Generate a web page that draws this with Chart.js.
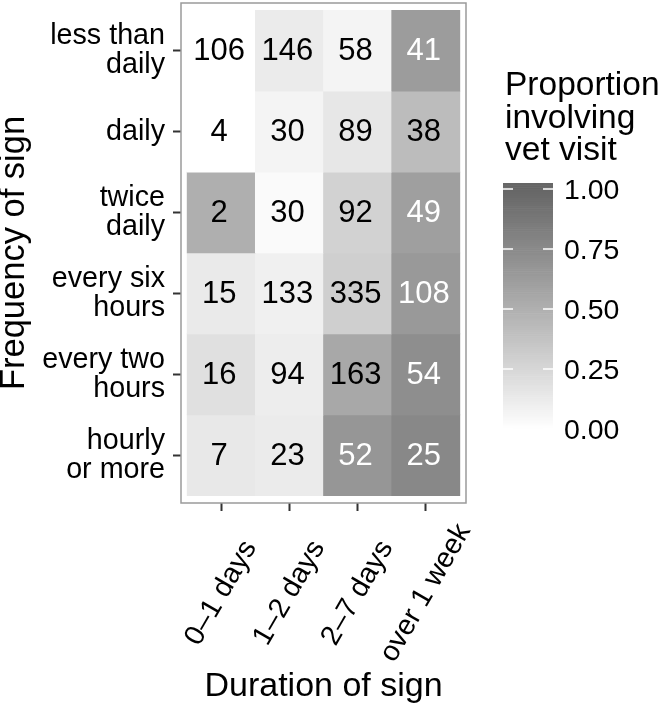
<!DOCTYPE html>
<html>
<head>
<meta charset="utf-8">
<script src="https://cdn.jsdelivr.net/npm/chart.js@4.4.1/dist/chart.umd.min.js"></script>
<style>
html,body{margin:0;padding:0;background:#fff;}
#wrap{width:666px;height:709px;position:relative;}
</style>
</head>
<body>
<div id="wrap"><canvas id="c"></canvas></div>
<script>
// ---- data ----
const durations = ['0–1 days', '1–2 days', '2–7 days', 'over 1 week'];
const frequencies = [
  ['less than', 'daily'],
  ['daily'],
  ['twice', 'daily'],
  ['every six', 'hours'],
  ['every two', 'hours'],
  ['hourly', 'or more']
];
const counts = [
  [106, 146, 58, 41],
  [4, 30, 89, 38],
  [2, 30, 92, 49],
  [15, 133, 335, 108],
  [16, 94, 163, 54],
  [7, 23, 52, 25]
];
const proportions = [
  [0.00, 0.12, 0.07, 0.63],
  [0.00, 0.07, 0.15, 0.42],
  [0.50, 0.03, 0.28, 0.61],
  [0.13, 0.09, 0.30, 0.65],
  [0.19, 0.11, 0.55, 0.72],
  [0.14, 0.12, 0.67, 0.76]
];
const legendBreaks = [0, 0.25, 0.5, 0.75, 1];
const legendTitle = ['Proportion', 'involving', 'vet visit'];
const xTitle = 'Duration of sign';
const yTitle = 'Frequency of sign';

// ---- styling helpers ----
const FONT = "'Liberation Sans', Arial, Helvetica, sans-serif";
const L_HIGH = 43.19; // grey40 lightness
function fillFor(p) {
  const v = Math.max(0, Math.min(1, p));
  const L = 100 - v * (100 - L_HIGH);
  const Y = Math.pow((L + 16) / 116, 3);
  const s = Y <= 0.0031308 ? 12.92 * Y : 1.055 * Math.pow(Y, 1 / 2.4) - 0.055;
  const g = Math.round(Math.max(0, Math.min(1, s)) * 255);
  return 'rgb(' + g + ',' + g + ',' + g + ')';
}

const datasets = counts.map((row, r) => ({
  label: frequencies[r].join(' '),
  data: row.map((n, c) => ({ x: c, y: [r - 0.5, r + 0.5] })),
  backgroundColor: proportions[r].map(fillFor),
  borderWidth: 0,
  barPercentage: 1,
  categoryPercentage: 1,
  grouped: false
}));

const decor = {
  id: 'decor',
  afterDatasetsDraw(chart) {
    const ctx = chart.ctx;
    const ca = chart.chartArea;
    // cell labels
    ctx.save();
    ctx.font = '31px ' + FONT;
    ctx.textAlign = 'center';
    ctx.textBaseline = 'middle';
    chart.data.datasets.forEach((ds, r) => {
      const meta = chart.getDatasetMeta(r);
      meta.data.forEach((bar, c) => {
        const cy = (bar.y + bar.base) / 2;
        ctx.fillStyle = proportions[r][c] > 0.6 ? '#ffffff' : '#000000';
        ctx.fillText(String(counts[r][c]), bar.x - 2, cy + 1);
      });
    });
    ctx.restore();
    // panel border
    ctx.save();
    ctx.strokeStyle = '#9a9a9a';
    ctx.lineWidth = 1.5;
    ctx.strokeRect(ca.left, ca.top, ca.right - ca.left, ca.bottom - ca.top);
    ctx.restore();
  },
  afterDraw(chart) {
    const ctx = chart.ctx;
    const ca = chart.chartArea;
    const xs = chart.scales.x;
    // rotated x tick labels, centred under ticks
    ctx.save();
    ctx.font = '28.5px ' + FONT;
    ctx.fillStyle = '#000';
    ctx.textAlign = 'center';
    ctx.textBaseline = 'middle';
    durations.forEach((d, i) => {
      const px = xs.getPixelForValue(i);
      ctx.save();
      ctx.translate(px, xs.top + 90);
      ctx.rotate(-Math.PI / 3);
      ctx.fillText(d, 0, 0);
      ctx.restore();
    });
    ctx.restore();

    // colour bar legend
    const bx = ca.right + 37, bw = 50;
    const y0 = 429, y1 = 189; // positions of 0 and 1
    const span = y0 - y1;
    const extra = 6;
    ctx.save();
    const steps = 120;
    const top = y1 - extra, bot = y0 + extra;
    for (let i = 0; i < steps; i++) {
      const ya = top + (bot - top) * i / steps;
      const yb = top + (bot - top) * (i + 1) / steps;
      const v = (y0 - (ya + yb) / 2) / span;
      ctx.fillStyle = fillFor(v);
      ctx.fillRect(bx, ya, bw, yb - ya + 0.6);
    }
    ctx.strokeStyle = '#ffffff';
    ctx.lineWidth = 1.5;
    ctx.font = '28.5px ' + FONT;
    ctx.fillStyle = '#000';
    ctx.textAlign = 'left';
    ctx.textBaseline = 'middle';
    legendBreaks.forEach(b => {
      const y = y0 - b * span;
      ctx.beginPath();
      ctx.moveTo(bx, y); ctx.lineTo(bx + 10, y);
      ctx.moveTo(bx + bw - 10, y); ctx.lineTo(bx + bw, y);
      ctx.stroke();
      ctx.fillText(b.toFixed(2), bx + 61, y + 2);
    });
    // legend title
    ctx.font = '33.5px ' + FONT;
    ctx.textBaseline = 'alphabetic';
    legendTitle.forEach((t, i) => {
      ctx.fillText(t, bx + 2, 95 + i * 32.5);
    });
    ctx.restore();
  }
};

new Chart(document.getElementById('c'), {
  type: 'bar',
  data: { datasets },
  options: {
    responsive: true,
    maintainAspectRatio: false,
    animation: false,
    layout: { padding: { left: 0, right: 200, top: 3, bottom: 0 } },
    plugins: { legend: { display: false }, tooltip: { enabled: false } },
    scales: {
      x: {
        type: 'linear',
        offset: false,
        min: -0.59,
        max: 3.59,
        afterBuildTicks: s => { s.ticks = durations.map((_, i) => ({ value: i })); },
        afterFit: s => { s.height = 206; s.paddingLeft = 0; s.paddingRight = 0; },
        border: { display: false },
        grid: { offset: false, drawOnChartArea: false, drawTicks: true, tickLength: 8, tickColor: '#333', tickWidth: 2 },
        ticks: { display: false, callback: v => durations[v] },
        title: {
          display: true, text: xTitle, color: '#000',
          font: { family: FONT, size: 34, lineHeight: 1.2 },
          padding: { top: 0, bottom: 1.6 }
        }
      },
      y: {
        type: 'linear',
        reverse: true,
        offset: false,
        min: -0.59,
        max: 5.59,
        afterBuildTicks: s => { s.ticks = frequencies.map((_, i) => ({ value: i })); },
        afterFit: s => { s.width = 181; s.paddingTop = 0; s.paddingBottom = 0; },
        border: { display: false },
        grid: { offset: false, drawOnChartArea: false, drawTicks: true, tickLength: 8, tickColor: '#333', tickWidth: 2 },
        ticks: {
          callback: v => frequencies[v],
          color: '#000',
          padding: 8,
          font: { family: FONT, size: 28.7, lineHeight: 1.02 }
        },
        title: {
          display: true, text: yTitle, color: '#000',
          font: { family: FONT, size: 34.5, lineHeight: 0.82 },
          padding: { top: 0, bottom: 0 }
        }
      }
    }
  },
  plugins: [decor]
});
</script>
</body>
</html>
